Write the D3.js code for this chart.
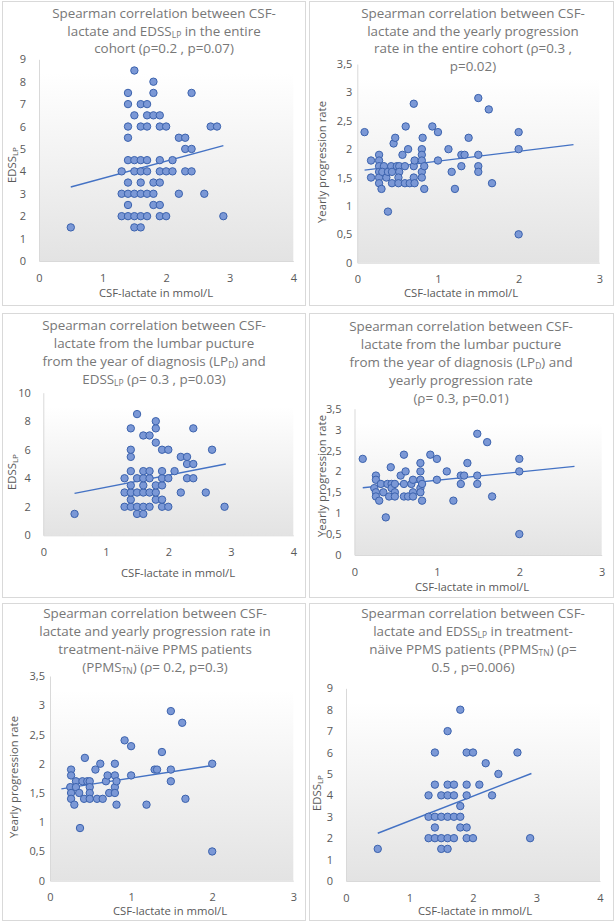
<!DOCTYPE html>
<html><head><meta charset="utf-8">
<script src="https://cdn.jsdelivr.net/npm/d3@7"></script>
<style>html,body{margin:0;padding:0;background:#fff;}svg{display:block;font-family:"Open Sans",sans-serif;}</style>
</head><body>
<svg id="c" width="615" height="922"></svg>
<script>
// ---------- DATA ----------
const edssAll = [[0.5,1.5],[1.5,1.5],[1.6,1.5],
 [1.3,2],[1.4,2],[1.5,2],[1.6,2],[1.7,2],[1.9,2],[2.0,2],[2.9,2],
 [1.4,2.5],[1.8,2.5],[1.9,2.5],
 [1.3,3],[1.4,3],[1.5,3],[1.6,3],[1.7,3],[1.8,3],[2.2,3],[2.6,3],
 [1.4,3.5],[1.6,3.5],[1.8,3.5],[1.9,3.5],
 [1.3,4],[1.5,4],[1.6,4],[1.7,4],[1.9,4],[2.0,4],[2.1,4],[2.3,4],[2.4,4],
 [1.4,4.5],[1.5,4.5],[1.6,4.5],[1.7,4.5],[1.9,4.5],[2.1,4.5],
 [2.3,5],[2.4,5],
 [1.4,5.5],[2.2,5.5],[2.3,5.5],
 [1.4,6],[1.6,6],[1.7,6],[1.9,6],[2.0,6],[2.7,6],[2.8,6],
 [1.5,6.5],[1.7,6.5],[1.8,6.5],[1.9,6.5],
 [1.4,7],[1.6,7],[1.7,7],
 [1.4,7.5],[1.8,7.5],[2.4,7.5],
 [1.8,8],[1.5,8.5]];

const yearlyAll = [[0.09,2.3],[0.17,1.8],[0.17,1.5],
 [0.27,1.9],[0.27,1.8],[0.27,1.7],[0.27,1.6],[0.27,1.5],[0.27,1.4],
 [0.3,1.3],[0.33,1.7],[0.31,1.6],[0.36,1.5],[0.38,1.6],[0.38,0.9],
 [0.42,1.7],[0.43,1.6],[0.43,1.4],[0.45,2.1],[0.47,2.2],
 [0.49,1.7],[0.52,1.7],[0.52,1.6],[0.51,1.5],[0.51,1.4],
 [0.56,1.9],[0.59,1.7],[0.59,1.4],[0.6,2.4],[0.63,2.0],[0.65,1.4],
 [0.7,2.8],[0.7,1.7],[0.71,1.8],[0.7,1.5],[0.71,1.4],
 [0.8,2.0],[0.8,1.9],[0.8,1.8],[0.8,1.6],[0.8,1.5],[0.81,2.2],[0.83,1.7],[0.83,1.3],
 [0.93,2.4],[1.0,2.3],[1.0,1.8],[1.13,2.0],[1.17,1.6],[1.21,1.3],
 [1.29,1.9],[1.29,1.7],[1.33,1.9],[1.38,2.2],
 [1.5,2.9],[1.5,1.9],[1.5,1.7],[1.5,1.6],[1.63,2.7],[1.67,1.4],
 [2.0,2.3],[2.0,2.0],[2.0,0.5]];

const edssLPD = [[0.5,1.5],[1.5,1.5],[1.6,1.5],
 [1.3,2],[1.4,2],[1.5,2],[1.6,2],[1.7,2],[1.9,2],[2.0,2],[2.9,2],
 [1.4,2.5],[1.8,2.5],[1.9,2.5],
 [1.3,3],[1.4,3],[1.5,3],[1.6,3],[1.7,3],[1.8,3],[2.2,3],[2.6,3],
 [1.4,3.5],[1.6,3.5],[1.8,3.5],[1.9,3.5],
 [1.3,4],[1.5,4],[1.6,4],[1.7,4],[1.9,4],[2.0,4],[2.3,4],[2.4,4],
 [1.4,4.5],[1.6,4.5],[1.7,4.5],[1.9,4.5],[2.1,4.5],
 [2.3,5],[2.4,5],
 [1.4,5.5],[2.2,5.5],[2.3,5.5],
 [1.4,6],[1.9,6],[2.0,6],[2.7,6],
 [1.8,6.5],[1.6,7],[1.7,7],
 [1.4,7.5],[1.8,7.5],[2.4,7.5],
 [1.8,8],[1.5,8.5]];

const yearlyLPD = [[0.1,2.3],
 [0.26,1.9],[0.26,1.8],[0.24,1.6],[0.26,1.5],[0.26,1.4],
 [0.3,1.3],[0.32,1.7],[0.35,1.5],[0.38,0.9],
 [0.4,1.7],[0.42,1.4],[0.44,2.1],[0.45,1.7],[0.45,1.6],
 [0.49,1.7],[0.49,1.5],[0.49,1.4],
 [0.56,1.9],[0.6,2.4],[0.6,1.7],[0.6,1.4],[0.62,2.0],[0.65,1.4],
 [0.69,1.7],[0.71,1.8],[0.71,1.5],[0.71,1.4],
 [0.8,2.2],[0.8,2.0],[0.8,1.8],[0.8,1.6],[0.8,1.5],[0.82,1.7],[0.82,1.3],
 [0.92,2.4],[1.0,2.3],[1.0,1.8],[1.12,2.0],[1.2,1.3],
 [1.29,1.9],[1.29,1.7],[1.33,1.9],[1.37,2.2],
 [1.49,2.9],[1.49,1.9],[1.49,1.7],[1.61,2.7],[1.67,1.4],
 [2.0,2.3],[2.0,2.0],[2.0,0.5]];

const yearlyTN = [[0.26,1.9],[0.26,1.8],[0.25,1.6],[0.26,1.5],[0.26,1.4],[0.3,1.3],
 [0.32,1.7],[0.32,1.6],[0.36,1.5],[0.37,0.9],
 [0.4,1.7],[0.42,1.4],[0.43,2.1],[0.46,1.7],
 [0.49,1.7],[0.49,1.6],[0.49,1.5],[0.49,1.4],
 [0.56,1.9],[0.58,1.4],[0.62,2.0],[0.65,1.4],
 [0.69,1.7],[0.71,1.8],[0.73,1.5],
 [0.8,2.0],[0.8,1.8],[0.8,1.6],[0.8,1.5],[0.82,1.7],[0.82,1.3],
 [0.92,2.4],[1.0,2.3],[1.0,1.8],[1.19,1.3],
 [1.29,1.9],[1.32,1.9],[1.38,2.2],
 [1.49,2.9],[1.49,1.9],[1.49,1.7],[1.63,2.7],[1.67,1.4],
 [2.0,2.0],[2.0,0.5]];

const edssTN = [[0.5,1.5],[1.5,1.5],[1.6,1.5],
 [1.3,2],[1.4,2],[1.5,2],[1.6,2],[1.7,2],[1.9,2],[2.0,2],[2.9,2],
 [1.4,2.5],[1.8,2.5],[1.9,2.5],
 [1.3,3],[1.4,3],[1.5,3],[1.6,3],[1.7,3],[1.8,3],
 [1.8,3.5],
 [1.3,4],[1.5,4],[1.6,4],[1.7,4],[1.9,4],[2.3,4],
 [1.4,4.5],[1.6,4.5],[1.7,4.5],[1.9,4.5],[2.1,4.5],
 [2.4,5],[2.2,5.5],
 [1.4,6],[1.9,6],[2.0,6],[2.7,6],
 [1.6,7],[1.8,8]];

// trendline end points
const trendEdssAll   = [[0.5,3.3],[2.9,5.15]];
const trendYearlyAll = [[0.09,1.63],[2.68,2.08]];
const trendEdssLPD   = [[0.5,2.94],[2.92,5.0]];
const trendYearlyLPD = [[0.1,1.61],[2.67,2.12]];
const trendYearlyTN  = [[0.14,1.57],[2.0,1.97]];
const trendEdssTN    = [[0.5,2.23],[2.92,5.02]];

const ticksX4 = [0,1,2,3,4];
const ticksX3 = [0,1,2,3];
const ticksEdss9 = [0,1,2,3,4,5,6,7,8,9];
const ticksEdss10 = [0,2,4,6,8,10];
const ticksYearly = [0,0.5,1,1.5,2,2.5,3,3.5];

const titles = [
 ["Spearman correlation between CSF-","lactate and EDSS_{LP} in the entire","cohort (ρ=0.2 , p=0.07)"],
 ["Spearman correlation between CSF-","lactate and the yearly progression","rate in the entire cohort (ρ=0.3 ,","p=0.02)"],
 ["Spearman correlation between CSF-","lactate from the lumbar pucture","from the year of diagnosis (LP_{D}) and","EDSS_{LP} (ρ= 0.3 , p=0.03)"],
 ["Spearman correlation between CSF-","lactate from the lumbar pucture","from the year of diagnosis (LP_{D}) and","yearly progression rate","(ρ= 0.3, p=0.01)"],
 ["Spearman correlation between CSF-","lactate and yearly progression rate in","treatment-näive PPMS patients","(PPMS_{TN}) (ρ= 0.2, p=0.3)"],
 ["Spearman correlation between CSF-","lactate and EDSS_{LP} in treatment-","näive PPMS patients (PPMS_{TN}) (ρ=","0.5 , p=0.006)"]
];
const xTitle = "CSF-lactate in mmol/L";
const yTitleEdss = "EDSS_{LP}";
const yTitleYearly = "Yearly progression rate";

// ---------- LAYOUT ----------
const panels = [
 {box:[2,1,303,304], data:edssAll, trend:trendEdssAll, title:titles[0], xd:[0,4], xt:ticksX4, yd:[0,9], yt:ticksEdss9,
  xr:[39,293.3], yr:[261,59.3], tcx:164, tb:18, tls:17.5, ylx:12, yly:165, ylab:yTitleEdss, xlx:156, xlb:297, gap:13},
 {box:[309,1,304,304], data:yearlyAll, trend:trendYearlyAll, title:titles[1], xd:[0,3], xt:ticksX3, yd:[0,3.5], yt:ticksYearly,
  xr:[357.3,599.3], yr:[262.7,64], tcx:473, tb:18, tls:17.5, ylx:322, yly:162, ylab:yTitleYearly, xlx:461, xlb:297, gap:5},
 {box:[2,313,303,284], data:edssLPD, trend:trendEdssLPD, title:titles[2], xd:[0,4], xt:ticksX4, yd:[0,10], yt:ticksEdss10,
  xr:[43.3,293.3], yr:[535.3,392.7], tcx:154, tb:330, tls:18, ylx:12, yly:472, ylab:yTitleEdss, xlx:178, xlb:577, gap:12.5},
 {box:[309,313,304,284], data:yearlyLPD, trend:trendYearlyLPD, title:titles[3], xd:[0,3], xt:ticksX3, yd:[0,3.5], yt:ticksYearly,
  xr:[354.5,601.7], yr:[555,408.7], tcx:461, tb:331, tls:17.9, ylx:322, yly:476, ylab:yTitleYearly, xlx:472, xlb:591, gap:13},
 {box:[2,603,303,317], data:yearlyTN, trend:trendYearlyTN, title:titles[4], xd:[0,3], xt:ticksX3, yd:[0,3.5], yt:ticksYearly,
  xr:[50,293.3], yr:[880.7,676], tcx:155, tb:618, tls:18, ylx:14, yly:777, ylab:yTitleYearly, xlx:170, xlb:915, gap:5},
 {box:[309,603,304,317], data:edssTN, trend:trendEdssTN, title:titles[5], xd:[0,4], xt:ticksX4, yd:[0,9], yt:ticksEdss9,
  xr:[346,600], yr:[881,688.3], tcx:473, tb:618, tls:18, ylx:317, yly:793, ylab:yTitleEdss, xlx:475, xlb:915, gap:13}
];

const svg = d3.select("#c");
const defs = svg.append("defs");
const grad = defs.append("linearGradient").attr("id","pg").attr("x1",0).attr("y1",0).attr("x2",0).attr("y2",1);
grad.append("stop").attr("offset","0%").attr("stop-color","#ffffff");
grad.append("stop").attr("offset","100%").attr("stop-color","#e3e3e3");

const fmt = v => String(v).replace(".",",");

// renders "abc_{sub}def" with subscripts; no empty tspans
function richText(sel, str, subSize, dy){
  const parts = str.split(/(_\{[^}]*\})/).filter(s=>s.length);
  let shift = 0;
  parts.forEach(p=>{
    const m = p.match(/^_\{([^}]*)\}$/);
    if(m){
      sel.append("tspan").attr("font-size",subSize).attr("dy",dy).text(m[1]);
      shift = dy;
    } else {
      const t = sel.append("tspan").text(p);
      if(shift){ t.attr("dy",-shift); shift = 0; }
    }
  });
}

panels.forEach(p=>{
  const g = svg.append("g");
  const [bx,by,bw,bh] = p.box;
  g.append("rect").attr("x",bx+0.5).attr("y",by+0.5).attr("width",bw).attr("height",bh)
   .attr("fill","#fff").attr("stroke","#d9d9d9").attr("stroke-width",1);

  const x = d3.scaleLinear().domain(p.xd).range(p.xr);
  const y = d3.scaleLinear().domain(p.yd).range(p.yr);

  // plot area gradient
  g.append("rect").attr("x",p.xr[0]).attr("y",p.yr[1]+14).attr("width",p.xr[1]-p.xr[0]).attr("height",p.yr[0]-p.yr[1]-14)
   .attr("fill","url(#pg)");

  // axes
  const ya = d3.axisLeft(y).tickValues(p.yt).tickSize(0).tickPadding(p.gap).tickFormat(fmt);
  const xa = d3.axisBottom(x).tickValues(p.xt).tickSize(0).tickPadding(13).tickFormat(fmt);
  const gy = g.append("g").attr("transform",`translate(${p.xr[0]},0)`).call(ya);
  const gx = g.append("g").attr("transform",`translate(0,${p.yr[0]})`).call(xa);
  [gy,gx].forEach(a=>{
    a.select(".domain").attr("stroke","#d9d9d9").attr("stroke-width",1);
    a.selectAll("text").attr("fill","#595959").attr("font-size",11).attr("font-family","Open Sans, sans-serif");
  });

  // trend line
  g.append("line").attr("x1",x(p.trend[0][0])).attr("y1",y(p.trend[0][1]))
   .attr("x2",x(p.trend[1][0])).attr("y2",y(p.trend[1][1]))
   .attr("stroke","#4472c4").attr("stroke-width",1.4);

  // points
  g.append("g").selectAll("circle").data(p.data).join("circle")
   .attr("cx",d=>x(d[0])).attr("cy",d=>y(d[1])).attr("r",3.7)
   .attr("fill","#7b98d6").attr("stroke","#3b62ad").attr("stroke-width",1);

  // title
  p.title.forEach((line,i)=>{
    const t = g.append("text").attr("x",p.tcx).attr("y",p.tb+i*p.tls).attr("text-anchor","middle")
      .attr("fill","#777777").attr("font-size",13.4);
    richText(t,line,8.5,2);
  });

  // axis titles
  g.append("text").attr("x",p.xlx).attr("y",p.xlb).attr("text-anchor","middle")
    .attr("fill","#595959").attr("font-size",11.3).text(xTitle);
  const yt = g.append("text").attr("transform",`translate(${p.ylx},${p.yly}) rotate(-90)`).attr("text-anchor","middle")
    .attr("dy","0.35em").attr("fill","#595959").attr("font-size",11.3);
  richText(yt,p.ylab,8,2.5);
});
</script>
</body></html>
